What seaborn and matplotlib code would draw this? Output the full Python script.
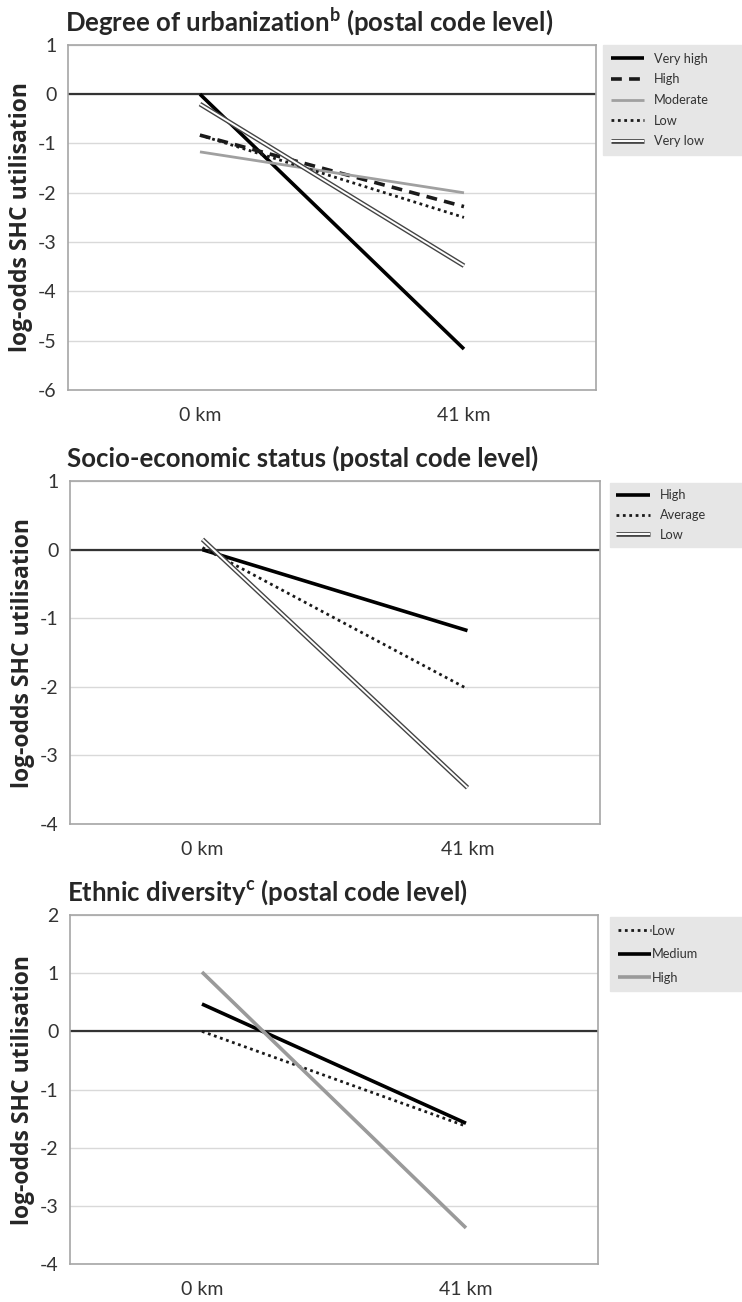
import numpy as np
import pandas as pd
import seaborn as sns
import matplotlib.pyplot as plt
import matplotlib.patheffects as pe

# dados
distancia = ["0 km", "41 km"]

urban_grupos = ["Very high", "High", "Moderate", "Low", "Very low"]
urban_0km = [0.0, -0.83, -1.17, -0.83, -0.20]
urban_41km = [-5.17, -2.28, -2.00, -2.50, -3.48]

ses_grupos = ["High", "Average", "Low"]
ses_0km = [0.0, 0.03, 0.15]
ses_41km = [-1.18, -2.03, -3.47]

etn_grupos = ["Low", "Medium", "High"]
etn_0km = [0.0, 0.47, 1.02]
etn_41km = [-1.63, -1.58, -3.38]

sns.set_style("white")
plt.rcParams['font.family'] = ['Lato', 'DejaVu Sans']
plt.rcParams['mathtext.fontset'] = 'custom'
plt.rcParams['mathtext.rm'] = 'Lato'
plt.rcParams['mathtext.bf'] = 'Lato:bold'

# estilos das linhas
preto = dict(color='black', lw=2.6, ls='-')
tracejado = dict(color='#1a1a1a', lw=2.6, ls=(0, (3, 2)))
cinza = dict(color='#a0a0a0', lw=2.0, ls='-')
cinza_grosso = dict(color='#9a9a9a', lw=2.6, ls='-')
pontilhado = dict(color='#1a1a1a', lw=2.0, ls=(0, (1, 1.3)))
duplo = dict(color='white', lw=1.4, ls='-',
             path_effects=[pe.Stroke(linewidth=3.4, foreground='#444444'), pe.Normal()])


def montar_df(grupos, v0, v41):
    linhas = []
    for g, a, b in zip(grupos, v0, v41):
        linhas.append({'grupo': g, 'dist': distancia[0], 'valor': a})
        linhas.append({'grupo': g, 'dist': distancia[1], 'valor': b})
    return pd.DataFrame(linhas)


def painel(ax, df, grupos, estilos, titulo, yticks, leg_box, leg_kw):
    for g in grupos:
        st = estilos[g]
        sub = df[df['grupo'] == g]
        sns.lineplot(data=sub, x='dist', y='valor', ax=ax, label=g,
                     color=st['color'], linewidth=st['lw'], linestyle=st['ls'],
                     sort=False, solid_capstyle='butt', dash_capstyle='butt')
        if 'path_effects' in st:
            ax.lines[-1].set_path_effects(st['path_effects'])
    ax.axhline(0, color='#333333', lw=1.6, zorder=1)
    ax.set_xlim(-0.5, 1.5)
    ax.set_ylim(yticks[0], yticks[-1])
    ax.set_yticks(yticks)
    ax.set_yticklabels([str(t) for t in yticks])
    ax.yaxis.grid(True, color='#d9d9d9', lw=1)
    ax.set_axisbelow(True)
    for s in ax.spines.values():
        s.set_color('#a6a6a6')
        s.set_linewidth(1.2)
    ax.tick_params(axis='both', length=0, labelsize=14, labelcolor='#333333')
    ax.tick_params(axis='x', pad=12)
    ax.tick_params(axis='y', pad=8)
    ax.set_xlabel('')
    ax.set_ylabel('log-odds SHC utilisation', fontsize=16.5, fontweight='bold',
                  family=['Open Sans', 'DejaVu Sans'], labelpad=4)
    ax.set_title(titulo, loc='left', fontsize=18.5, fontweight='bold', pad=10, x=-0.005)
    handles, labels = ax.get_legend_handles_labels()
    ax.legend(handles, labels, loc='upper left', bbox_to_anchor=leg_box,
              bbox_transform=fig.transFigure, mode='expand', frameon=True,
              facecolor='#e6e6e6', edgecolor='#e6e6e6', fancybox=False,
              framealpha=1, fontsize=9.2, **leg_kw)
    for t in ax.get_legend().get_texts():
        t.set_color('#333333')


fig = plt.figure(figsize=(7.42, 13.02), dpi=100)
ax1 = fig.add_axes([0.0916, 0.7005, 0.7116, 0.2650])
ax2 = fig.add_axes([0.0943, 0.3671, 0.7143, 0.2634])
ax3 = fig.add_axes([0.0943, 0.0292, 0.7116, 0.2680])

painel(ax1, montar_df(urban_grupos, urban_0km, urban_41km), urban_grupos,
       {'Very high': preto, 'High': tracejado, 'Moderate': cinza,
        'Low': pontilhado, 'Very low': duplo},
       r'Degree of urbanization$^{\mathbf{b}}$ (postal code level)',
       [-6, -5, -4, -3, -2, -1, 0, 1],
       (603 / 742, 0.0, 139 / 742, 1 - 45 / 1302),
       dict(labelspacing=0.68, handlelength=2.6, handletextpad=0.8, borderpad=0.6,
            borderaxespad=0))

painel(ax2, montar_df(ses_grupos, ses_0km, ses_41km), ses_grupos,
       {'High': preto, 'Average': pontilhado, 'Low': duplo},
       'Socio-economic status (postal code level)',
       [-4, -3, -2, -1, 0, 1],
       (610 / 742, 0.0, 132 / 742, 1 - 483 / 1302),
       dict(labelspacing=0.6, handlelength=2.6, handletextpad=0.8, borderpad=0.5,
            borderaxespad=0))

painel(ax3, montar_df(etn_grupos, etn_0km, etn_41km), etn_grupos,
       {'Low': pontilhado, 'Medium': preto, 'High': cinza_grosso},
       r'Ethnic diversity$^{\mathbf{c}}$ (postal code level)',
       [-4, -3, -2, -1, 0, 1, 2],
       (610 / 742, 0.0, 132 / 742, 1 - 917 / 1302),
       dict(labelspacing=0.9, handlelength=2.6, handletextpad=0.1, borderpad=0.6,
            borderaxespad=0))

plt.savefig('out.png', dpi=100)
